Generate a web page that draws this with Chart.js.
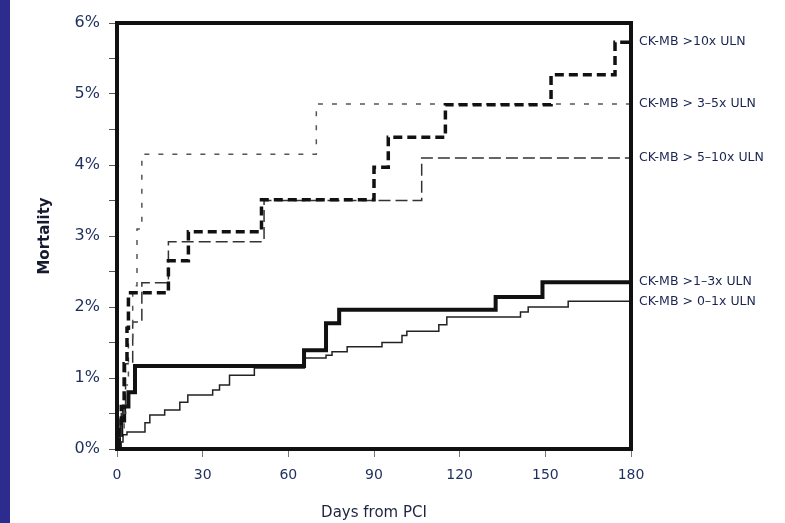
<!DOCTYPE html>
<html>
<head>
<meta charset="utf-8">
<script src="https://cdn.jsdelivr.net/npm/chart.js@4/dist/chart.umd.min.js"></script>
<style>
  body { margin: 0; background: #fff; }
  #wrap {
    width: 785px; height: 523px; position: relative;
    background: linear-gradient(to right, #2c2c8e 0px, #2c2c8e 10px, #ffffff 10px);
  }
</style>
</head>
<body>
<div id="wrap"><canvas id="myChart"></canvas></div>
<script>
// days since PCI where the curve steps up, and cumulative mortality (%) after the step
const days10x  = [0, 0.7, 1.5, 2.5, 3.5, 4, 18, 25, 50.6, 90, 95, 115, 152, 174.4, 180];
const mort10x  = [0, 0.3, 0.6, 1.2, 1.7, 2.2, 2.65, 3.06, 3.51, 3.97, 4.39, 4.85, 5.27, 5.73, 5.73];

const days3to5 = [0, 1, 2.5, 4, 5.5, 7, 8.7, 69.8, 180];
const mort3to5 = [0, 0.3, 0.9, 1.5, 2.3, 3.1, 4.15, 4.86, 4.86];

const days5to10 = [0, 1.5, 3, 5.5, 8.7, 18, 51.5, 106.7, 180];
const mort5to10 = [0, 0.5, 1.2, 1.79, 2.34, 2.92, 3.5, 4.1, 4.1];

const days1to3 = [0, 0.7, 1.5, 2.5, 4, 6.3, 65.5, 73.2, 77.8, 132.6, 149, 180];
const mort1to3 = [0, 0.2, 0.4, 0.6, 0.8, 1.17, 1.39, 1.77, 1.96, 2.14, 2.35, 2.35];

const days0to1 = [0, 0.7, 2.1, 3.5, 9.8, 11.5, 16.7, 22, 24.8, 33.5, 35.9, 39.4, 48.1, 65.6, 73.2, 75.3, 80.6, 92.8, 99.8, 101.5, 112.7, 115.5, 141.3, 144, 158, 180];
const mort0to1 = [0, 0.1, 0.2, 0.24, 0.37, 0.48, 0.55, 0.66, 0.76, 0.83, 0.9, 1.04, 1.14, 1.28, 1.32, 1.37, 1.44, 1.5, 1.6, 1.66, 1.75, 1.86, 1.93, 2.0, 2.08, 2.08];

const seriesLabels = ['CK-MB >10x ULN', 'CK-MB > 3\u20135x ULN', 'CK-MB > 5\u201310x ULN', 'CK-MB >1\u20133x ULN', 'CK-MB > 0\u20131x ULN'];
const xTicks = [0, 30, 60, 90, 120, 150, 180];

const pts = (xs, ys) => xs.map((d, i) => ({x: d, y: ys[i]}));

// frame round the plot and the curve names on the right
const framePlugin = {
    id: 'frame',
    afterDatasetsDraw(chart) {
        const {ctx, chartArea: a, scales} = chart;
        ctx.save();
        ctx.strokeStyle = '#111';
        ctx.lineWidth = 4;
        ctx.strokeRect(a.left, a.top, a.right - a.left, a.bottom - a.top);
        ctx.fillStyle = '#1a2450';
        ctx.font = '12.5px "DejaVu Sans", sans-serif';
        ctx.textBaseline = 'middle';
        chart.data.datasets.forEach(ds => {
            const last = ds.data[ds.data.length - 1];
            ctx.fillText(ds.label, a.right + 8, scales.y.getPixelForValue(last.y));
        });
        ctx.restore();
    }
};

var ctx = document.getElementById('myChart').getContext('2d');
const chart = new Chart(ctx, {
    type: 'line',
    data: {
        datasets: [
            { label: seriesLabels[0], data: pts(days10x, mort10x), borderColor: '#111', borderWidth: 3.5, borderDash: [9, 5] },
            { label: seriesLabels[1], data: pts(days3to5, mort3to5), borderColor: '#555', borderWidth: 1.5, borderDash: [5, 9] },
            { label: seriesLabels[2], data: pts(days5to10, mort5to10), borderColor: '#333', borderWidth: 1.5, borderDash: [12, 5] },
            { label: seriesLabels[3], data: pts(days1to3, mort1to3), borderColor: '#111', borderWidth: 4 },
            { label: seriesLabels[4], data: pts(days0to1, mort0to1), borderColor: '#222', borderWidth: 1.5 }
        ]
    },
    options: {
        responsive: true,
        maintainAspectRatio: false,
        animation: false,
        layout: { padding: { top: 23, right: 154, left: 0, bottom: 0 } },
        elements: {
            point: { radius: 0 },
            line: { stepped: 'before', fill: false, tension: 0, borderCapStyle: 'butt' }
        },
        plugins: { legend: { display: false }, tooltip: { enabled: false } },
        scales: {
            x: {
                type: 'linear',
                min: 0, max: 180,
                afterBuildTicks: s => { s.ticks = xTicks.map(v => ({value: v})); },
                afterFit: s => { s.height = 74; },
                grid: { drawOnChartArea: false, tickLength: 8, color: '#777' },
                border: { display: false },
                ticks: { padding: 10, color: '#1f2f5c', font: { family: '"DejaVu Sans", sans-serif', size: 14 } },
                title: { display: true, text: 'Days from PCI', color: '#1c2540', padding: { bottom: 1 }, font: { family: '"DejaVu Sans", sans-serif', size: 15 } }
            },
            y: {
                min: 0, max: 6,
                afterFit: s => { s.width = 117; },
                grid: { drawOnChartArea: false, tickLength: 8, color: '#555' },
                border: { display: false },
                ticks: {
                    stepSize: 0.5,
                    padding: 9,
                    color: '#1f2f5c',
                    font: { family: '"DejaVu Sans", sans-serif', size: 16 },
                    callback: v => (v % 1 === 0 ? v + '%' : '')
                },
                title: { display: true, text: 'Mortality', color: '#151a30', padding: { top: 36 }, font: { family: '"DejaVu Sans", sans-serif', size: 15, weight: 'bold' } }
            }
        }
    },
    plugins: [framePlugin]
});
</script>
</body>
</html>
